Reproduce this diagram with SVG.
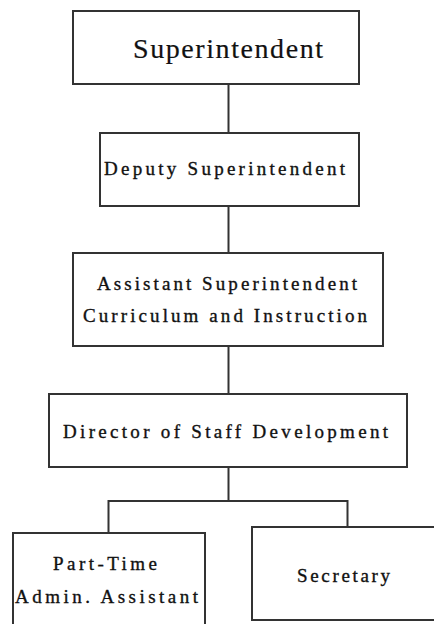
<svg xmlns="http://www.w3.org/2000/svg" width="434" height="624" viewBox="0 0 434 624">
  <style>
    .box { fill: #ffffff; stroke: #333333; stroke-width: 2; }
    .wire { fill: none; stroke: #333333; stroke-width: 2; }
    .lbl { font-family: "Liberation Serif", "Times New Roman", serif; fill: #111111; font-size: 19px; stroke: #111111; stroke-width: 0.35; }
    .big { font-size: 28px; stroke-width: 0.2; }
  </style>
  <rect width="434" height="624" fill="#ffffff"/>

  <!-- connectors -->
  <g id="connectors">
    <line class="wire" x1="228.5" y1="84" x2="228.5" y2="133"/>
    <line class="wire" x1="228.5" y1="206" x2="228.5" y2="253"/>
    <line class="wire" x1="228.5" y1="346" x2="228.5" y2="394"/>
    <line class="wire" x1="228.5" y1="467" x2="228.5" y2="501"/>
    <polyline class="wire" points="108.5,533 108.5,501 347.5,501 347.5,527"/>
  </g>

  <g id="superintendent">
    <rect class="box" x="73" y="11" width="286" height="73"/>
    <text class="lbl big" x="133" y="58" textLength="190" lengthAdjust="spacing">Superintendent</text>
  </g>

  <g id="deputy">
    <rect class="box" x="100" y="133" width="259" height="73"/>
    <text class="lbl" x="104" y="175" textLength="241" lengthAdjust="spacing">Deputy Superintendent</text>
  </g>

  <g id="assistant">
    <rect class="box" x="73" y="253" width="310" height="93"/>
    <text class="lbl" x="97" y="290" textLength="260" lengthAdjust="spacing">Assistant Superintendent</text>
    <text class="lbl" x="83" y="322" textLength="284" lengthAdjust="spacing">Curriculum and Instruction</text>
  </g>

  <g id="director">
    <rect class="box" x="49" y="394" width="358" height="73"/>
    <text class="lbl" x="63" y="438" textLength="325" lengthAdjust="spacing">Director of Staff Development</text>
  </g>

  <g id="parttime">
    <rect class="box" x="13" y="533" width="192" height="100"/>
    <text class="lbl" x="53" y="570" textLength="104" lengthAdjust="spacing">Part-Time</text>
    <text class="lbl" x="15" y="603" textLength="183" lengthAdjust="spacing">Admin. Assistant</text>
  </g>

  <g id="secretary">
    <rect class="box" x="252" y="527" width="200" height="93"/>
    <text class="lbl" x="297" y="582" textLength="93" lengthAdjust="spacing">Secretary</text>
  </g>
</svg>
